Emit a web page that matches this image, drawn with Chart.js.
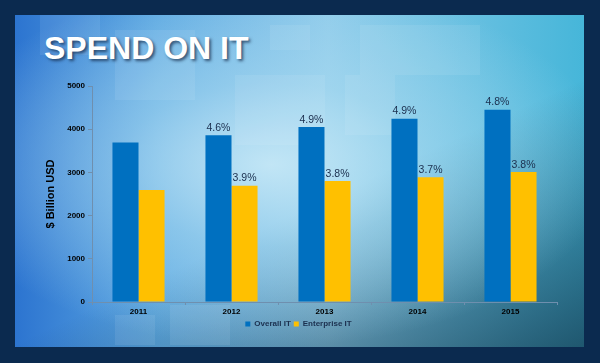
<!DOCTYPE html>
<html>
<head>
<meta charset="utf-8">
<script src="https://cdn.jsdelivr.net/npm/chart.js@4.4.0/dist/chart.umd.min.js"></script>
<style>
  html, body { margin: 0; padding: 0; }
  body { width: 600px; height: 363px; background: #0b2a4f; position: relative; overflow: hidden; }
  .panel {
    position: absolute; left: 15px; top: 15px; width: 569px; height: 332px;
    background:
      radial-gradient(ellipse 60% 55% at 45% 45%, rgba(205,236,248,0.85) 0%, rgba(175,222,242,0.5) 45%, rgba(0,0,0,0) 100%),
      linear-gradient(155deg, rgba(0,0,0,0) 55%, rgba(18,55,75,0.75) 100%),
      linear-gradient(to right, #2c74d0 0%, #5ea9e2 25%, #8fcbea 55%, #46b6d9 100%);
  }
  .sq { position: absolute; background: rgba(255,255,255,0.08); }
  .title {
    position: absolute; left: 44px; top: 30px; margin: 0;
    font: bold 32px "Liberation Sans", Arial, sans-serif; color: #fff;
    text-shadow: 2px 2px 3px rgba(20,40,70,0.7);
  }
  #c { position: absolute; left: 0; top: 0; }
</style>
</head>
<body>
<div class="panel">
  <div class="sq" style="left:25px;top:0;width:60px;height:40px"></div>
  <div class="sq" style="left:100px;top:15px;width:80px;height:70px"></div>
  <div class="sq" style="left:255px;top:10px;width:40px;height:25px"></div>
  <div class="sq" style="left:345px;top:10px;width:120px;height:50px"></div>
  <div class="sq" style="left:220px;top:60px;width:90px;height:70px"></div>
  <div class="sq" style="left:330px;top:60px;width:50px;height:60px"></div>
  <div class="sq" style="left:100px;top:300px;width:40px;height:30px"></div>
  <div class="sq" style="left:155px;top:290px;width:60px;height:40px"></div>
</div>
<h1 class="title">SPEND ON IT</h1>
<canvas id="c" width="600" height="363"></canvas>
<script>
const years = ['2011', '2012', '2013', '2014', '2015'];
const overallIT = [3690, 3860, 4050, 4240, 4450];
const enterpriseIT = [2590, 2690, 2800, 2890, 3010];
const overallGrowth = ['', '4.6%', '4.9%', '4.9%', '4.8%'];
const enterpriseGrowth = ['', '3.9%', '3.8%', '3.7%', '3.8%'];
const yTicks = [0, 1000, 2000, 3000, 4000, 5000];

Chart.defaults.font.family = '"Liberation Sans", Arial, sans-serif';
Chart.defaults.color = '#000';

// growth labels above the bars
const barLabels = {
  id: 'barLabels',
  afterDatasetsDraw(chart) {
    const ctx = chart.ctx;
    ctx.save();
    ctx.font = '10.5px "Liberation Sans", Arial, sans-serif';
    ctx.fillStyle = '#1b2f4e';
    ctx.textAlign = 'center';
    ctx.textBaseline = 'bottom';
    chart.data.datasets.forEach((ds, i) => {
      chart.getDatasetMeta(i).data.forEach((bar, j) => {
        const txt = ds.growth[j];
        if (txt) ctx.fillText(txt, bar.x, bar.y - 2);
      });
    });
    ctx.restore();
  }
};

new Chart(document.getElementById('c'), {
  type: 'bar',
  data: {
    labels: years,
    datasets: [
      { label: 'Overall IT', data: overallIT, growth: overallGrowth, backgroundColor: '#0070c0' },
      { label: 'Enterprise IT', data: enterpriseIT, growth: enterpriseGrowth, backgroundColor: '#ffc000' }
    ]
  },
  options: {
    responsive: false,
    animation: false,
    layout: { padding: { left: 40, right: 43, top: 86, bottom: 25 } },
    datasets: { bar: { categoryPercentage: 0.56, barPercentage: 1 } },
    plugins: {
      legend: {
        position: 'bottom',
        labels: {
          boxWidth: 5, boxHeight: 5, padding: 3,
          font: { size: 8, weight: 'bold' }, color: '#1b2f4e'
        }
      },
      tooltip: { enabled: false }
    },
    scales: {
      y: {
        min: 0, max: 5000,
        afterBuildTicks: axis => { axis.ticks = yTicks.map(v => ({ value: v })); },
        afterFit: axis => { axis.width = 52; },
        border: { color: '#6f8fae' },
        grid: { drawOnChartArea: false, tickLength: 4, color: '#6f8fae' },
        ticks: { font: { size: 8, weight: 'bold' }, padding: 3, callback: v => String(v) },
        title: {
          display: true, text: '$ Billion USD',
          font: { size: 11, weight: 'bold' }, padding: { top: 4, bottom: 4 }
        }
      },
      x: {
        afterFit: axis => { axis.height = 15; },
        border: { color: '#6f8fae' },
        grid: { drawOnChartArea: false, offset: true, tickLength: 3, color: '#6f8fae' },
        ticks: { font: { size: 8, weight: 'bold' }, padding: 2 }
      }
    }
  },
  plugins: [barLabels]
});
</script>
</body>
</html>
